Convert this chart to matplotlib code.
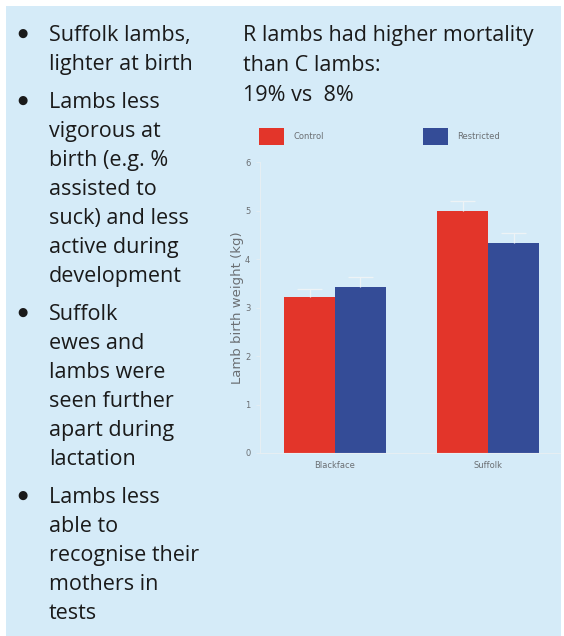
import matplotlib
matplotlib.use("Agg")
import matplotlib.pyplot as plt
from matplotlib.patches import Rectangle
import numpy as np

# ---- data ----
breeds = ["Blackface", "Suffolk"]
series = ["Control", "Restricted"]
control = [3.22, 4.99]
restricted = [3.42, 4.33]
control_err = [0.16, 0.20]
restricted_err = [0.20, 0.21]
yticks = [0, 1, 2, 3, 4, 5, 6]
ylabel = "Lamb birth weight (kg)"

headline = ["R lambs had higher mortality", "than C lambs:", "19% vs  8%"]
bullets = [
    ["Suffolk lambs,", "lighter at birth"],
    ["Lambs less", "vigorous at", "birth (e.g. %", "assisted to", "suck) and less",
     "active during", "development"],
    ["Suffolk", "ewes and", "lambs were", "seen further", "apart during", "lactation"],
    ["Lambs less", "able to", "recognise their", "mothers in", "tests"],
]

# ---- style ----
W, H = 564, 636
BG = "#d5ebf8"
RED = "#e3352a"
BLUE = "#344c97"
TXT = "#1a1a1a"
GREY = "#6b6f73"
ERR = "#eef3f6"
FONT = ["Open Sans", "DejaVu Sans"]

fig = plt.figure(figsize=(W / 100, H / 100), dpi=100, facecolor="white")
fig.patches.append(Rectangle((6 / W, 0), (W - 9) / W, (H - 6) / H,
                             transform=fig.transFigure, facecolor=BG,
                             edgecolor="none", zorder=-10))

def fx(px):
    return px / W

def fy(py):
    return 1 - py / H

# left bullet column
base = 41
step = 29
gap = 9
y = base
for group in bullets:
    fig.text(fx(17), fy(y - 4.5), "\u25CF", fontsize=8.5, color=TXT,
             family=["DejaVu Sans"], va="baseline", ha="left")
    for line in group:
        fig.text(fx(49), fy(y), line, fontsize=15.5, color=TXT, family=FONT,
                 va="baseline", ha="left")
        y += step
    y += gap

# headline
y = 41
for line in headline:
    fig.text(fx(243), fy(y), line, fontsize=15.5, color=TXT, family=FONT,
             va="baseline", ha="left")
    y += 30

# ---- chart ----
ax_l, ax_r, ax_t, ax_b = 260, 560, 162, 453
ax = fig.add_axes([fx(ax_l), fy(ax_b), (ax_r - ax_l) / W, (ax_b - ax_t) / H])
ax.set_facecolor("none")
ax.set_zorder(5)
x = np.arange(len(breeds))
w = 0.333
cap = 0.16
ax.bar(x - w / 2, control, w, color=RED, label=series[0], zorder=2)
ax.bar(x + w / 2, restricted, w, color=BLUE, label=series[1], zorder=2)
for xs, vals, errs in [(x - w / 2, control, control_err),
                       (x + w / 2, restricted, restricted_err)]:
    tops = np.array(vals) + np.array(errs)
    ax.vlines(xs, vals, tops, color=ERR, lw=0.9, zorder=3)
    ax.hlines(tops, xs - cap / 2, xs + cap / 2, color=ERR, lw=0.9, zorder=3)

ax.set_xlim(-0.49, 1.47)
ax.set_ylim(0, 6)
ax.set_yticks(yticks)
ax.set_yticklabels([str(t) for t in yticks])
ax.set_xticks(x)
ax.set_xticklabels(breeds)
for s in ["top", "right"]:
    ax.spines[s].set_visible(False)
for s in ["left", "bottom"]:
    ax.spines[s].set_color("#e6eef3")
    ax.spines[s].set_linewidth(0.8)
ax.tick_params(axis="y", colors="#e6eef3", labelcolor=GREY, labelsize=6,
               length=3, width=0.6, pad=4)
ax.tick_params(axis="x", length=0, labelcolor=GREY, labelsize=6, pad=6)
ax.set_ylabel(ylabel, fontsize=9.5, color=GREY, labelpad=1)

leg = fig.legend(loc="upper left", bbox_to_anchor=(fx(259), fy(128)),
                 ncol=2, frameon=False, fontsize=6, handlelength=3,
                 handleheight=2.7, handletextpad=1.1, columnspacing=11.9,
                 borderpad=0, borderaxespad=0)
for t in leg.get_texts():
    t.set_color(GREY)

fig.savefig("out.png", dpi=100, facecolor="white")
